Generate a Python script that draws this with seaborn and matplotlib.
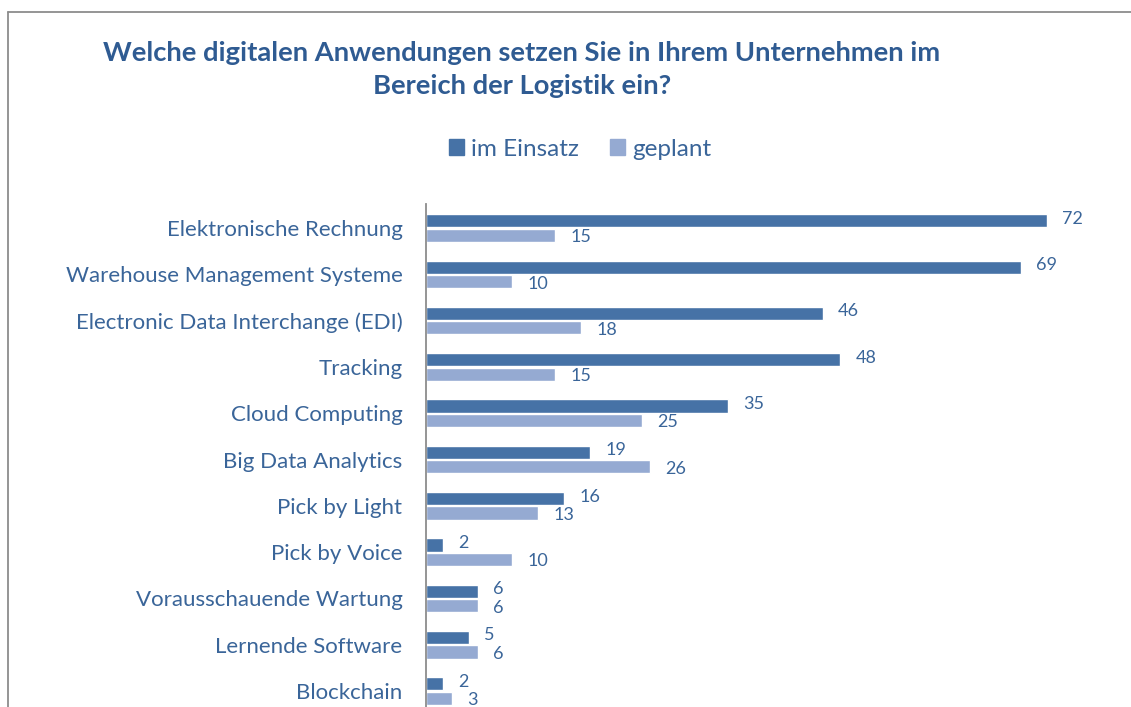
import pandas as pd
import matplotlib.pyplot as plt
import seaborn as sns
from matplotlib.lines import Line2D

categories = [
    "Elektronische Rechnung",
    "Warehouse Management Systeme",
    "Electronic Data Interchange (EDI)",
    "Tracking",
    "Cloud Computing",
    "Big Data Analytics",
    "Pick by Light",
    "Pick by Voice",
    "Vorausschauende Wartung",
    "Lernende Software",
    "Blockchain",
]
im_einsatz = [72, 69, 46, 48, 35, 19, 16, 2, 6, 5, 2]
geplant = [15, 10, 18, 15, 25, 26, 13, 10, 6, 6, 3]
series = ["im Einsatz", "geplant"]

DARK = "#4672A6"
LIGHT = "#95AAD2"
TEXT = "#3A6599"
TITLE = "#2F5B92"

df = pd.DataFrame({
    "Anwendung": categories * 2,
    "Wert": im_einsatz + geplant,
    "Status": [series[0]] * len(categories) + [series[1]] * len(categories),
})

sns.set_style("white")
plt.rcParams["font.family"] = ["Lato", "DejaVu Sans"]

fig = plt.figure(figsize=(11.31, 7.07), dpi=100)
ax = fig.add_axes([0.3767, -0.0167, 0.61, 0.7282])

sns.barplot(data=df, y="Anwendung", x="Wert", hue="Status", orient="h",
            palette=[DARK, LIGHT], saturation=1, width=0.62, gap=0.08,
            order=categories, hue_order=series, legend=False, ax=ax)

# value labels, nudged apart a little so neighbouring labels don't collide
for cont, dy in zip(ax.containers, [1.5, -1.5]):
    labels = ax.bar_label(cont, padding=11, color=TEXT, fontsize=13)
    for lab in labels:
        lab.xyann = (lab.xyann[0], dy)

ax.set_xlim(0, 80)
ax.set_ylim(10.6, -0.52)
ax.set_xlabel("")
ax.set_ylabel("")
ax.set_xticks([])
ax.tick_params(axis="y", length=0, pad=17, labelsize=16, labelcolor=TEXT)
for s in ["top", "right", "bottom"]:
    ax.spines[s].set_visible(False)
ax.spines["left"].set_color("#8C8C8C")
ax.spines["left"].set_linewidth(1.3)

# legend
handles = [plt.Rectangle((0, 0), 1, 1, color=c) for c in [DARK, LIGHT]]
leg = fig.legend(handles, series, loc="center", bbox_to_anchor=(0.513, 0.789),
                 ncol=2, frameon=False, fontsize=17.5, handlelength=0.6,
                 handleheight=0.6, handletextpad=0.3, columnspacing=1.3)
for t in leg.get_texts():
    t.set_color(TEXT)

fig.text(0.4615, 0.902,
         "Welche digitalen Anwendungen setzen Sie in Ihrem Unternehmen im\nBereich der Logistik ein?",
         ha="center", va="center", fontsize=19.7, fontweight="bold", color=TITLE,
         linespacing=1.45)

# chart frame (left and top edges visible)
fig.add_artist(Line2D([8 / 1131, 8 / 1131], [0, 1 - 12 / 707],
                      transform=fig.transFigure, color="#8C8C8C", lw=1.3))
fig.add_artist(Line2D([8 / 1131, 1], [1 - 12 / 707, 1 - 12 / 707],
                      transform=fig.transFigure, color="#8C8C8C", lw=1.3))

fig.savefig("out.png", dpi=100)
